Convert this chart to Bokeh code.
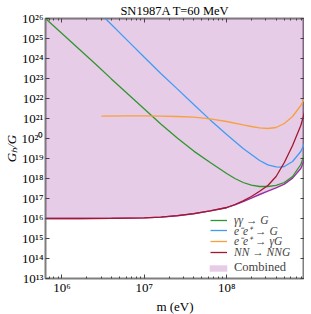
import numpy as np
from bokeh.plotting import figure
from bokeh.models import (LogAxis, FixedTicker, CustomJSTickFormatter, Legend,
                          LegendItem, Range1d)
from bokeh.embed import file_html
from bokeh.resources import INLINE

title_text = "SN1987A T=60 MeV"
x_label = "m (eV)"
y_label = "Gₕ/G"

# axis limits (log10)
x_lim = [5.80, 8.945]
y_lim = [13, 26]
x_major = [6, 7, 8]
y_major = list(range(13, 27))

# curves: log10(m / eV) and log10(G_h / G)
gg_logm = [5.80, 6.0, 6.2, 6.4, 6.6, 6.8, 7.0, 7.2, 7.4, 7.6, 7.8, 8.0, 8.1, 8.2, 8.3, 8.4, 8.5, 8.6, 8.7, 8.8, 8.9, 8.945]
gg_logG = [26.0, 25.25, 24.5, 23.75, 22.98, 22.22, 21.47, 20.73, 20.03, 19.37, 18.8, 18.25, 18.0, 17.8, 17.67, 17.6, 17.6, 17.66, 17.8, 18.1, 18.7, 19.2]

ee_logm = [6.527, 6.8, 7.0, 7.2, 7.4, 7.6, 7.8, 8.0, 8.1, 8.2, 8.3, 8.4, 8.5, 8.6, 8.65, 8.7, 8.8, 8.9, 8.945]
ee_logG = [26.0, 24.88, 24.06, 23.25, 22.48, 21.7, 20.93, 20.2, 19.85, 19.5, 19.2, 18.9, 18.68, 18.58, 18.57, 18.6, 18.85, 19.35, 19.75]

eeg_logm = [6.48, 6.8, 7.0, 7.2, 7.4, 7.6, 7.8, 8.0, 8.2, 8.3, 8.4, 8.5, 8.6, 8.7, 8.8, 8.9, 8.945]
eeg_logG = [21.12, 21.13, 21.13, 21.12, 21.1, 21.07, 20.98, 20.85, 20.68, 20.6, 20.53, 20.5, 20.55, 20.75, 21.1, 21.65, 22.0]

nn_logm = [5.80, 6.2, 6.6, 7.0, 7.2, 7.4, 7.6, 7.8, 8.0, 8.1, 8.2, 8.3, 8.4, 8.5, 8.6, 8.7, 8.8, 8.9, 8.945]
nn_logG = [16.0, 16.0, 16.01, 16.03, 16.07, 16.14, 16.24, 16.38, 16.55, 16.7, 16.88, 17.1, 17.36, 17.65, 18.1, 18.8, 19.65, 20.65, 21.3]

comb_logm = [5.80, 6.2, 6.6, 7.0, 7.2, 7.4, 7.6, 7.8, 8.0, 8.1, 8.2, 8.3, 8.4, 8.5, 8.6, 8.7, 8.8, 8.9, 8.945]
comb_logG = [16.0, 16.0, 16.01, 16.03, 16.07, 16.14, 16.24, 16.38, 16.54, 16.68, 16.84, 17.02, 17.2, 17.37, 17.53, 17.72, 18.02, 18.5, 18.95]

labels = ["γγ → G", "e⁻e⁺ → G", "e⁻e⁺ → γG", "NN → NNG"]
comb_label = "Combined"
colors = ["#2f962f", "#409cf3", "#f7a03e", "#a2182e"]

def p10(a):
    return np.power(10.0, np.asarray(a, dtype=float))

FONT = "Liberation Serif"
AX = "#7f7f7f"

p = figure(x_axis_type="log", y_axis_type="log",
           x_range=Range1d(10.0**x_lim[0], 10.0**x_lim[1]),
           y_range=Range1d(10.0**y_lim[0], 10.0**y_lim[1]),
           frame_width=259, frame_height=260,
           output_backend="svg", toolbar_location=None,
           min_border_left=0, min_border_right=0, min_border_top=17, min_border_bottom=0)
p.xgrid.visible = False
p.ygrid.visible = False
p.outline_line_color = AX
p.outline_line_width = 2
p.background_fill_color = "white"

# combined region
cm = p10(comb_logm)
cg = p10(comb_logG)
r_comb = p.varea(x=cm, y1=cg, y2=np.full(len(cm), 10.0**y_lim[1]),
                 fill_color="purple", fill_alpha=0.2)
p.line(cm, cg, line_color="#9a30a2", line_width=1.4)

rs = []
for lm, lg, c in zip([gg_logm, ee_logm, eeg_logm, nn_logm],
                     [gg_logG, ee_logG, eeg_logG, nn_logG], colors):
    rs.append(p.line(p10(lm), p10(lg), line_color=c, line_width=1.3))

fmt_code = """
const s = {"0":"⁰","1":"¹","2":"²","3":"³","4":"⁴","5":"⁵","6":"⁶","7":"⁷","8":"⁸","9":"⁹","-":"⁻"};
const e = Math.round(Math.log10(tick));
return "10" + String(e).split("").map(c => s[c]).join("");
"""
xt = FixedTicker(ticks=[10.0**k for k in x_major],
                 minor_ticks=[k * 10.0**e for e in range(5, 9) for k in range(2, 10)])
yt = FixedTicker(ticks=[10.0**k for k in y_major], minor_ticks=[])

def style(ax, ticker, show):
    ax.ticker = ticker
    ax.axis_line_color = None
    ax.major_tick_in = 4
    ax.major_tick_out = 0
    ax.minor_tick_in = 2
    ax.minor_tick_out = 0
    ax.major_tick_line_color = "#444444"
    ax.minor_tick_line_color = "#444444"
    ax.major_tick_line_width = 1
    ax.axis_label_text_font = FONT
    ax.axis_label_text_font_size = "13px"
    ax.axis_label_text_color = "black"
    if show:
        ax.formatter = CustomJSTickFormatter(code=fmt_code)
        ax.major_label_text_font = FONT
        ax.major_label_text_font_size = "13px"
        ax.major_label_text_color = "black"
    else:
        ax.major_label_text_font_size = "1px"
        ax.major_label_text_alpha = 0
        ax.major_label_standoff = 0

style(p.xaxis[0], xt, True)
style(p.yaxis[0], yt, True)
p.xaxis[0].axis_label = x_label
p.xaxis[0].axis_label_text_font_style = "normal"
p.xaxis[0].major_label_standoff = 1
p.xaxis[0].axis_label_standoff = 1
p.yaxis[0].axis_label = y_label
p.yaxis[0].axis_label_text_font_style = "italic"
p.yaxis[0].major_label_standoff = 2
p.yaxis[0].axis_label_standoff = 0

top = LogAxis()
right = LogAxis()
style(top, xt, False)
style(right, yt, False)
# the title sits just above the frame as the top axis' label
top.axis_label = title_text
top.axis_label_text_font_style = "normal"
top.axis_label_text_font_size = "12.5px"
top.axis_label_standoff = 1
p.add_layout(top, "above")
p.add_layout(right, "right")

# one single-row legend per entry, rows from the top down
row_bottoms = [51.5, 40.5, 29.8, 19.0]
for lab, r, yb in zip(labels, rs, row_bottoms):
    lg = Legend(items=[LegendItem(label=lab, renderers=[r])],
                location=(165, yb), orientation="vertical",
                label_text_font=FONT, label_text_font_style="italic",
                label_text_font_size="11.5px", glyph_width=17, glyph_height=14,
                label_height=14, spacing=0, padding=0, margin=0,
                border_line_color=None, background_fill_alpha=0, label_standoff=7)
    p.add_layout(lg)
leg2 = Legend(items=[LegendItem(label=comb_label, renderers=[r_comb])],
              location=(162, 3), orientation="vertical",
              label_text_font=FONT, label_text_font_style="normal",
              label_text_font_size="12.5px", glyph_width=22, glyph_height=8,
              label_height=14, spacing=0, padding=0, margin=0,
              border_line_color=None, background_fill_alpha=0, label_standoff=5)
p.add_layout(leg2)

open("out.html", "w").write(file_html(p, INLINE))
